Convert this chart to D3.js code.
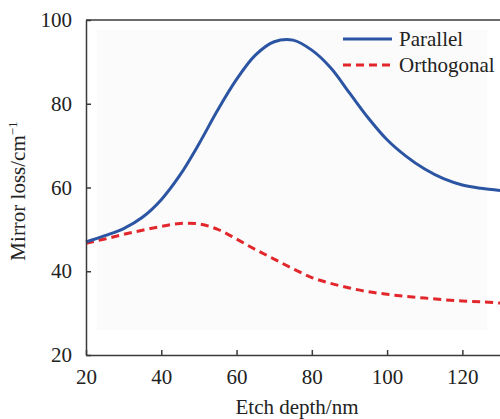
<!DOCTYPE html>
<html>
<head>
<meta charset="utf-8">
<script src="https://cdn.jsdelivr.net/npm/d3@7"></script>
<style>
  body { margin: 0; background: #fff; }
  svg text { font-family: "Liberation Serif", "Times New Roman", serif; fill: #222; }
</style>
</head>
<body>
<div class="chart"></div>
<script>
// etch depth (nm)
const depths = [20, 25, 30, 35, 40, 45, 50, 55, 60, 65, 70, 75, 80, 85, 90, 95, 100, 105, 110, 115, 120, 125, 130]
// mirror loss (cm^-1)
const parallel = [47.0, 48.5, 50.2, 52.9, 57.1, 63.0, 70.4, 78.5, 85.8, 91.6, 94.8, 95.2, 92.8, 88.6, 82.6, 76.6, 71.4, 67.5, 64.4, 62.1, 60.6, 59.8, 59.3]
const orthogonal = [46.7, 47.7, 48.8, 49.8, 50.7, 51.4, 51.3, 50.0, 47.7, 45.2, 42.9, 40.6, 38.5, 37.1, 36.0, 35.1, 34.5, 34.0, 33.6, 33.2, 32.9, 32.7, 32.4]
const xTicks = [20, 40, 60, 80, 100, 120]
const yTicks = [20, 40, 60, 80, 100]
const seriesNames = ['Parallel', 'Orthogonal']

function renderChart() {
    const width = 500, height = 419
    const margin = {left: 86, right: 0, top: 20, bottom: 64}
    const serif = '"Liberation Serif", "Times New Roman", serif'

    const svg = d3.select('.chart').append('svg')
        .attr('width', width)
        .attr('height', height)

    const x = d3.scaleLinear()
        .domain([20, 130])
        .range([margin.left, width - margin.right])
    const y = d3.scaleLinear()
        .domain([20, 100])
        .range([height - margin.bottom, margin.top])

    // faint scanned background
    svg.append('rect')
        .attr('x', 97).attr('y', 30)
        .attr('width', 390).attr('height', 300)
        .style('fill', '#fbfbfb')

    const series = [
        {name: seriesNames[0], values: parallel, color: '#2b54a3', dash: null},
        {name: seriesNames[1], values: orthogonal, color: '#e1272b', dash: '8,5'}
    ]

    const line = d3.line()
        .x(d => x(d[0]))
        .y(d => y(d[1]))
        .curve(d3.curveCatmullRom.alpha(0.5))

    svg.selectAll('.series')
        .data(series.slice().reverse())
        .enter()
        .append('path')
        .attr('class', 'series')
        .attr('d', d => line(depths.map((v, i) => [v, d.values[i]])))
        .style('fill', 'none')
        .style('stroke', d => d.color)
        .style('stroke-width', 3)
        .style('stroke-dasharray', d => d.dash)

    // axes
    svg.append('g')
        .attr('transform', 'translate(0,' + y(20) + ')')
        .call(d3.axisBottom(x).tickValues(xTicks).tickSizeInner(-5).tickSizeOuter(0).tickPadding(14))
        .attr('font-family', serif)
        .attr('font-size', 21)
    svg.append('g')
        .attr('transform', 'translate(' + x(20) + ',0)')
        .call(d3.axisLeft(y).tickValues(yTicks).tickSizeInner(-5).tickSizeOuter(0).tickPadding(14))
        .attr('font-family', serif)
        .attr('font-size', 21)

    svg.selectAll('.domain, .tick line')
        .style('stroke', '#3a3a3a')
        .style('stroke-width', 1.5)
    svg.selectAll('.tick text')
        .style('font-family', serif)
        .style('font-size', '21px')
        .style('fill', '#222')

    // top frame
    svg.append('line')
        .attr('x1', x(20)).attr('x2', x(130))
        .attr('y1', y(100)).attr('y2', y(100))
        .style('stroke', '#3a3a3a')
        .style('stroke-width', 1.5)

    // axis titles
    svg.append('text')
        .attr('x', (x(20) + x(130)) / 2 + 4)
        .attr('y', 414)
        .attr('text-anchor', 'middle')
        .attr('font-size', '21px')
        .text('Etch depth/nm')

    const yTitle = svg.append('text')
        .attr('transform', 'translate(25,' + 191 + ') rotate(-90)')
        .attr('text-anchor', 'middle')
        .attr('font-size', '21px')
    yTitle.append('tspan').text('Mirror loss/cm')
    yTitle.append('tspan').attr('dy', -8).attr('font-size', '13px').text('\u22121')

    // legend
    const legend = svg.selectAll('.legend')
        .data(series)
        .enter()
        .append('g')
        .attr('class', 'legend')
        .attr('transform', (d, i) => 'translate(343,' + (39 + 26 * i) + ')')

    legend.append('line')
        .attr('x1', 0).attr('x2', 49)
        .style('stroke', d => d.color)
        .style('stroke-width', 3)
        .style('stroke-dasharray', d => d.dash)

    legend.append('text')
        .attr('x', 56)
        .attr('dy', '0.35em')
        .attr('font-size', '21px')
        .text(d => d.name)
}

renderChart()
</script>
</body>
</html>
